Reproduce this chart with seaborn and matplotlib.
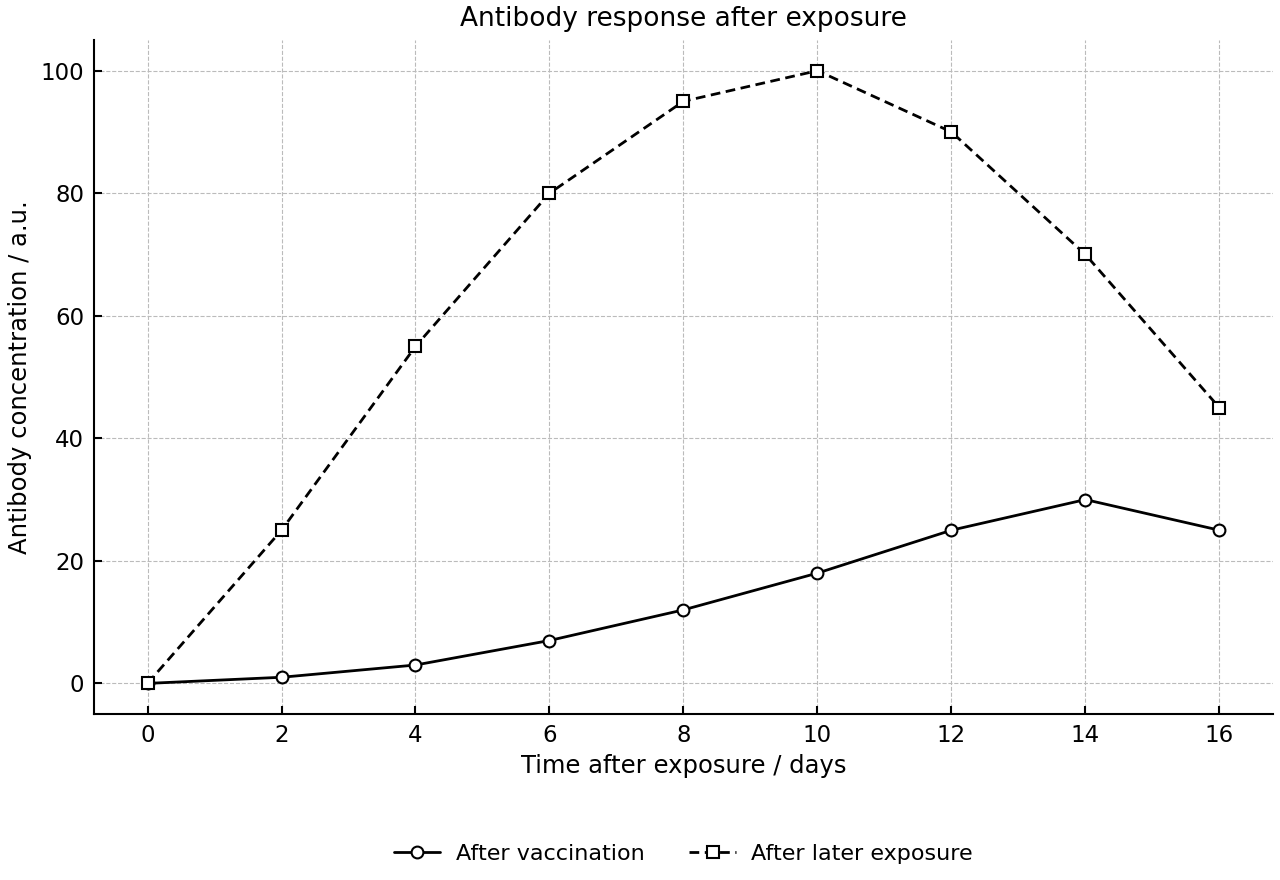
import matplotlib
matplotlib.use("Agg")
import matplotlib.pyplot as plt
import seaborn as sns
import pandas as pd

days = [0, 2, 4, 6, 8, 10, 12, 14, 16]
after_vaccination = [0, 1, 3, 7, 12, 18, 25, 30, 25]
after_later_exposure = [0, 25, 55, 80, 95, 100, 90, 70, 45]
series_names = ["After vaccination", "After later exposure"]

sns.set_theme(style="ticks")
plt.rcParams["font.family"] = ["DejaVu Sans"]
plt.rcParams["text.color"] = "black"
plt.rcParams["axes.labelcolor"] = "black"
plt.rcParams["xtick.color"] = "black"
plt.rcParams["ytick.color"] = "black"

df = pd.DataFrame({
    "days": days * 2,
    "value": after_vaccination + after_later_exposure,
    "series": [series_names[0]] * len(days) + [series_names[1]] * len(days),
})

fig = plt.figure(figsize=(12.8, 8.8), dpi=100)
ax = fig.add_axes([0.0734, 0.1886, 0.9211, 0.7659])

sns.lineplot(data=df, x="days", y="value", hue="series", style="series",
             palette=["black", "black"],
             dashes={series_names[0]: "", series_names[1]: (3.5, 2)},
             markers={series_names[0]: "o", series_names[1]: "s"},
             markersize=8.5, markerfacecolor="white", markeredgecolor="black",
             markeredgewidth=1.5, linewidth=2, ax=ax)

ax.set_xticks(days)
ax.set_yticks([0, 20, 40, 60, 80, 100])
ax.grid(True, linestyle="--", color="#bbbbbb", linewidth=0.8)
ax.tick_params(direction="in", labelsize=16.5, length=6, width=1.5, pad=7,
               colors="black")
for s in ["top", "right"]:
    ax.spines[s].set_visible(False)
for s in ["left", "bottom"]:
    ax.spines[s].set_linewidth(1.5)
    ax.spines[s].set_color("black")

ax.set_title("Antibody response after exposure", fontsize=19, pad=10, color="black")
ax.set_xlabel("Time after exposure / days", fontsize=17.5, color="black", labelpad=5)
ax.set_ylabel("Antibody concentration / a.u.", fontsize=17.5, color="black", labelpad=6)

leg = ax.legend(loc="center", bbox_to_anchor=(0.5, -0.208), ncol=2, frameon=False,
                fontsize=16, handlelength=2.1, handletextpad=0.7, columnspacing=2.0)
for t in leg.get_texts():
    t.set_color("black")
for h in leg.get_lines():
    h.set_markerfacecolor("white")
    h.set_markeredgecolor("black")

fig.savefig("out.png", dpi=100)
